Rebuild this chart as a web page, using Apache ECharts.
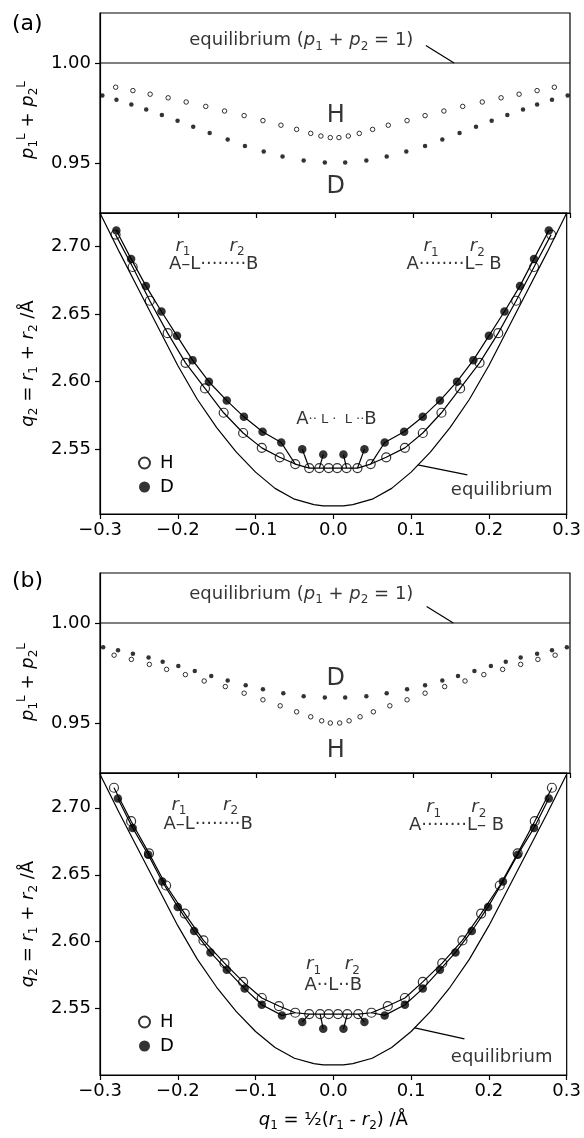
<!DOCTYPE html>
<html><head><meta charset="utf-8">
<script src="https://cdn.jsdelivr.net/npm/echarts@6/dist/echarts.min.js"></script>
<style>html,body{margin:0;padding:0;background:#fff}#c{width:584px;height:1138px}</style>
</head><body><div id="c"></div>
<script>
// ---------------- data ----------------
const xTicks = [-0.3, -0.2, -0.1, 0, 0.1, 0.2, 0.3];
const pTicks = [0.95, 1.00];
const qTicks = [2.55, 2.60, 2.65, 2.70];
const eqP = 1.0;

// equilibrium q2(q1) curve
const eqQ = [-0.300,-0.275,-0.250,-0.225,-0.200,-0.175,-0.150,-0.125,-0.100,-0.075,-0.050,-0.025,-0.013,0.013,0.025,0.050,0.075,0.100,0.125,0.150,0.175,0.200,0.225,0.250,0.275,0.300];
const eqV = [2.725,2.696,2.668,2.640,2.612,2.587,2.566,2.548,2.533,2.521,2.513,2.509,2.508,2.508,2.509,2.513,2.521,2.533,2.548,2.566,2.587,2.612,2.640,2.668,2.696,2.725];

// (a) H
const aHq = [-0.280,-0.258,-0.236,-0.213,-0.190,-0.165,-0.141,-0.116,-0.092,-0.069,-0.049,-0.031,-0.018,-0.006,0.005,0.017,0.031,0.048,0.068,0.092,0.115,0.139,0.163,0.188,0.212,0.235,0.258,0.280];
const aHv = [2.709,2.685,2.660,2.636,2.614,2.595,2.577,2.562,2.551,2.544,2.539,2.536,2.536,2.536,2.536,2.536,2.536,2.539,2.544,2.551,2.562,2.577,2.595,2.614,2.636,2.660,2.685,2.709];
const aPHv = [0.9879,0.9862,0.9844,0.9826,0.9805,0.9783,0.9760,0.9737,0.9712,0.9689,0.9668,0.9648,0.9635,0.9627,0.9627,0.9635,0.9648,0.9668,0.9689,0.9712,0.9737,0.9760,0.9783,0.9805,0.9826,0.9844,0.9862,0.9879];
// (a) D
const aDq = [-0.279,-0.260,-0.241,-0.221,-0.201,-0.181,-0.160,-0.137,-0.115,-0.091,-0.067,-0.040,-0.013,0.013,0.040,0.066,0.091,0.115,0.137,0.159,0.180,0.200,0.220,0.240,0.258,0.277];
const aDv = [2.712,2.691,2.671,2.652,2.634,2.616,2.600,2.586,2.574,2.563,2.555,2.550,2.546,2.546,2.550,2.555,2.563,2.574,2.586,2.600,2.616,2.634,2.652,2.671,2.691,2.712];
const aPDq = [-0.297,-0.279,-0.260,-0.241,-0.221,-0.201,-0.181,-0.160,-0.137,-0.115,-0.091,-0.067,-0.040,-0.013,0.013,0.040,0.066,0.091,0.115,0.137,0.159,0.180,0.200,0.220,0.240,0.258,0.277,0.297];
const aPDv = [0.9837,0.9816,0.9793,0.9767,0.9740,0.9711,0.9681,0.9650,0.9617,0.9585,0.9558,0.9533,0.9513,0.9503,0.9503,0.9513,0.9533,0.9558,0.9585,0.9617,0.9650,0.9681,0.9711,0.9740,0.9767,0.9793,0.9816,0.9837];

// (b) H
const bHq = [-0.282,-0.260,-0.237,-0.215,-0.191,-0.167,-0.140,-0.116,-0.092,-0.070,-0.049,-0.031,-0.017,-0.006,0.006,0.018,0.032,0.049,0.070,0.092,0.115,0.140,0.166,0.190,0.214,0.237,0.259,0.281];
const bHv = [2.715,2.690,2.666,2.642,2.621,2.601,2.584,2.570,2.558,2.552,2.547,2.546,2.546,2.546,2.546,2.546,2.546,2.547,2.552,2.558,2.570,2.584,2.601,2.621,2.642,2.666,2.690,2.715];
const bPHv = [0.9839,0.9818,0.9793,0.9768,0.9742,0.9710,0.9682,0.9649,0.9616,0.9586,0.9556,0.9531,0.9511,0.9500,0.9500,0.9511,0.9531,0.9556,0.9586,0.9616,0.9649,0.9682,0.9710,0.9742,0.9768,0.9793,0.9818,0.9839];
// (b) D
const bDq = [-0.277,-0.258,-0.238,-0.220,-0.200,-0.179,-0.158,-0.137,-0.114,-0.092,-0.066,-0.040,-0.013,0.013,0.040,0.066,0.092,0.115,0.137,0.157,0.178,0.199,0.218,0.237,0.258,0.277];
const bDv = [2.707,2.685,2.665,2.645,2.626,2.608,2.592,2.579,2.565,2.553,2.545,2.540,2.535,2.535,2.540,2.545,2.553,2.565,2.579,2.592,2.608,2.626,2.645,2.665,2.685,2.707];
const bPDq = [-0.296,-0.277,-0.258,-0.238,-0.220,-0.200,-0.179,-0.158,-0.137,-0.114,-0.092,-0.066,-0.040,-0.013,0.013,0.040,0.066,0.092,0.115,0.137,0.157,0.178,0.199,0.218,0.237,0.258,0.277,0.296];
const bPDv = [0.9879,0.9864,0.9846,0.9828,0.9806,0.9785,0.9760,0.9735,0.9712,0.9689,0.9669,0.9649,0.9634,0.9628,0.9628,0.9634,0.9649,0.9669,0.9689,0.9712,0.9735,0.9760,0.9785,0.9806,0.9828,0.9846,0.9864,0.9879];

// how the D path joins the H path near the centre (indices into D / H arrays)
const dLeftEnd = 10, hLeftJoin = 10, dRightStart = 15, hRightJoin = 17;
const linkD = [11, 12, 13, 14];
const linkH = [11, 12, 15, 16];

// ---------------- style / layout ----------------
const FF = "'DejaVu Sans', sans-serif";
const K = '#000';
const RICH = {
  t:  {fontFamily: FF, fontSize: 18, lineHeight: 24, color: K},
  i:  {fontFamily: FF, fontSize: 18, fontStyle: 'italic', lineHeight: 24, color: K},
  sb: {fontFamily: FF, fontSize: 12, lineHeight: 12, verticalAlign: 'bottom', color: K},
  sp: {fontFamily: FF, fontSize: 12, lineHeight: 14, verticalAlign: 'top', color: K},
  s:  {fontFamily: FF, fontSize: 13, verticalAlign: 'middle', padding: [2, 0, 0, 0], color: K},
  big:{fontFamily: FF, fontSize: 24, lineHeight: 28, color: K}
};
const EQTXT = '{t|equilibrium (}{i|p}{sb|1}{t| + }{i|p}{sb|2}{t| = 1)}';
const R1 = '{i|r}{sb|1}', R2 = '{i|r}{sb|2}';
const LAY = {
  aTop: [{t: EQTXT, at: [-0.043, 1.0112]}, {t: '{big|H}', at: [0.001, 0.9737]}, {t: '{big|D}', at: [0.001, 0.9381]}],
  aTopLead: [[0.116, 1.0087], [0.152, 1.0]],
  bTop: [{t: EQTXT, at: [-0.043, 1.0145]}, {t: '{big|D}', at: [0.001, 0.9723]}, {t: '{big|H}', at: [0.001, 0.9362]}],
  bTopLead: [[0.117, 1.0082], [0.151, 1.0]],
  aLow: [
    {t: R1, at: [-0.1934, 2.7004]}, {t: R2, at: [-0.1238, 2.7004]}, {t: '{t|A–L········B}', at: [-0.1538, 2.687]},
    {t: R1, at: [0.1257, 2.700]}, {t: R2, at: [0.1851, 2.700]}, {t: '{t|A········L– B}', at: [0.1551, 2.687]},
    {t: '{t|A}{s|·· L ·  L ··}{t|B}', at: [0.004, 2.5725]},
    {t: '{t|equilibrium}', at: [0.2164, 2.5198]}
  ],
  aLowLead: [[0.1085, 2.5384], [0.1723, 2.531]],
  bLow: [
    {t: R1, at: [-0.1985, 2.702]}, {t: R2, at: [-0.1321, 2.702]}, {t: '{t|A–L········B}', at: [-0.1609, 2.688]},
    {t: R1, at: [0.129, 2.700]}, {t: R2, at: [0.187, 2.700]}, {t: '{t|A········L– B}', at: [0.1583, 2.687]},
    {t: R1, at: [-0.0255, 2.583]}, {t: R2, at: [0.0243, 2.583]}, {t: '{t|A··L··B}', at: [0, 2.5677]},
    {t: '{t|equilibrium}', at: [0.2164, 2.514]}
  ],
  bLowLead: [[0.1047, 2.5357], [0.1685, 2.5275]]
};

function pts(q, v) { return q.map((x, i) => [x, v[i]]); }
function lineS(g, data) {
  return {type: 'line', xAxisIndex: g, yAxisIndex: g, data: data, symbol: 'none', showSymbol: false,
    silent: true, z: 2, lineStyle: {color: K, width: 1.2}};
}
function scatS(g, name, data, size, filled) {
  return {type: 'scatter', name: name, xAxisIndex: g, yAxisIndex: g, data: data, symbol: 'circle',
    symbolSize: size, silent: true, z: 3,
    itemStyle: filled ? {color: K, borderWidth: 0} : {color: 'rgba(255,255,255,0)', borderColor: K, borderWidth: size > 6 ? 1.2 : 1}};
}
function textS(g, items) {
  return {type: 'scatter', xAxisIndex: g, yAxisIndex: g, symbol: 'circle', symbolSize: 1, silent: true, z: 4,
    itemStyle: {color: 'rgba(0,0,0,0)'},
    data: items.map(it => ({name: it.t, value: it.at})),
    label: {show: true, position: 'inside', formatter: p => p.name, rich: RICH}};
}
function panel(gTop, gLow, Hq, Hv, Dq, Dv, PHv, PDq, PDv, topTxt, topLead, lowTxt, lowLead) {
  const s = [];
  const hl = pts(Hq, Hv), dl = pts(Dq, Dv);
  s.push(scatS(gLow, 'H', hl, 9, false));
  s.push(scatS(gLow, 'D', dl, 8.5, true));
  s.push(lineS(gLow, pts(eqQ, eqV)));
  s.push(lineS(gLow, hl));
  s.push(lineS(gLow, dl.slice(0, dLeftEnd + 1).concat([hl[hLeftJoin]])));
  s.push(lineS(gLow, [hl[hRightJoin]].concat(dl.slice(dRightStart))));
  linkD.forEach((d, k) => s.push(lineS(gLow, [dl[d], hl[linkH[k]]])));
  s.push(lineS(gLow, lowLead));
  s.push(textS(gLow, lowTxt));
  s.push(lineS(gTop, [[-0.3, eqP], [0.3, eqP]]));
  s.push(scatS(gTop, 'H', pts(Hq, PHv), 4.5, false));
  s.push(scatS(gTop, 'D', pts(PDq, PDv), 4.5, true));
  s.push(lineS(gTop, topLead));
  s.push(textS(gTop, topTxt));
  return s;
}

const axLine = {show: true, onZero: false, lineStyle: {color: K, width: 1.2}};
const fx = v => Math.abs(v) < 1e-9 ? '0.0' : v.toFixed(1).replace('-', '\u2212');
function xAx(g, showLab, name) {
  const a = {type: 'value', gridIndex: g, min: -0.3, max: 0.3,
    axisLine: axLine,
    axisTick: {show: true, length: 5, customValues: xTicks, lineStyle: {color: K, width: 1.2}},
    axisLabel: {show: showLab, customValues: xTicks, margin: 7, color: K, fontFamily: FF, fontSize: 18, formatter: fx},
    splitLine: {show: false}};
  if (name) { a.name = name; a.nameLocation = 'middle'; a.nameGap = 33; a.nameTextStyle = {rich: RICH}; }
  return a;
}
function yAx(g, min, max, ticks, name, pad) {
  return {type: 'value', gridIndex: g, min: min, max: max,
    axisLine: axLine,
    axisTick: {show: true, length: 5, customValues: ticks, lineStyle: {color: K, width: 1.2}},
    axisLabel: {show: true, customValues: ticks, margin: 9, color: K, fontFamily: FF, fontSize: 18, formatter: v => v.toFixed(2)},
    splitLine: {show: false},
    name: name, nameLocation: 'middle', nameGap: 60, nameTextStyle: {rich: RICH, padding: pad || 0}};
}
const PNAME = '{i|p}{sb|1}{sp|L}{t| + }{i|p}{sb|2}{sp|L}';
const QNAME = '{i|q}{sb|2}{t| = }{i|r}{sb|1}{t| + }{i|r}{sb|2}{t| /Å}';
const XNAME = '{i|q}{sb|1}{t| = ½(}{i|r}{sb|1}{t| - }{i|r}{sb|2}{t|) /Å}';

const gridBase = {left: 100, right: 14, show: true, borderColor: K, borderWidth: 1.2, backgroundColor: 'transparent'};
const legBase = {orient: 'vertical', left: 133, itemWidth: 11, itemHeight: 11, itemGap: 6, selectedMode: false,
  data: ['H', 'D'], textStyle: {fontFamily: FF, fontSize: 18, color: K, padding: [0, 0, 0, 5]}};

const option = {
  animation: false,
  backgroundColor: '#fff',
  title: [
    {text: '(a)', left: 7, top: 8, textStyle: {fontFamily: FF, fontSize: 22, fontWeight: 'normal', color: K}},
    {text: '(b)', left: 7, top: 565, textStyle: {fontFamily: FF, fontSize: 22, fontWeight: 'normal', color: K}}
  ],
  legend: [Object.assign({top: 449}, legBase), Object.assign({top: 1008}, legBase)],
  grid: [
    Object.assign({top: 13, height: 200}, gridBase),
    Object.assign({top: 213, height: 301}, gridBase),
    Object.assign({top: 573, height: 200}, gridBase),
    Object.assign({top: 773, height: 302}, gridBase)
  ],
  xAxis: [xAx(0, false), xAx(1, true), xAx(2, false), xAx(3, true, XNAME)],
  yAxis: [
    yAx(0, 0.925, 1.025, pTicks, PNAME, [0, 14, 0, 0]),
    yAx(1, 2.502, 2.725, qTicks, QNAME),
    yAx(2, 0.925, 1.025, pTicks, PNAME, [0, 18, 0, 0]),
    yAx(3, 2.5005, 2.726, qTicks, QNAME)
  ],
  series: [].concat(
    panel(0, 1, aHq, aHv, aDq, aDv, aPHv, aPDq, aPDv, LAY.aTop, LAY.aTopLead, LAY.aLow, LAY.aLowLead),
    panel(2, 3, bHq, bHv, bDq, bDv, bPHv, bPDq, bPDv, LAY.bTop, LAY.bTopLead, LAY.bLow, LAY.bLowLead)
  )
};
const chart = echarts.init(document.getElementById('c'), null, {renderer: 'canvas'});
chart.setOption(option);
</script>
</body></html>
